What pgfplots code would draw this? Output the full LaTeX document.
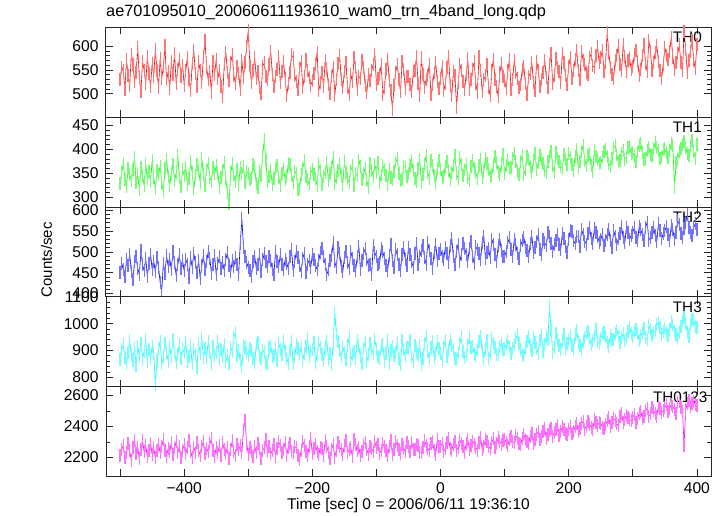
\documentclass[border=0pt]{standalone}
\usepackage{pgfplots}
\usepackage{pgfplotstable}
\pgfplotsset{compat=1.18}
\usepackage{fontspec}
\setmainfont{Liberation Sans}
\definecolor{qred}{RGB}{255,0,0}
\definecolor{qgreen}{RGB}{0,255,0}
\definecolor{qblue}{RGB}{0,0,255}
\definecolor{qcyan}{RGB}{0,255,255}
\definecolor{qmag}{RGB}{255,0,255}
\pgfplotstableread{
t a b c d e
-500 531 329 451 868 2214
-497.5 556 352 473 902 2251
-495 548 371 458 921 2276
-492.5 509 338 440 874 2198
-490 572 323 481 851 2230
-487.5 538 361 467 893 2289
-485 517 347 495 937 2243
-482.5 583 336 452 880 2181
-480 561 358 433 862 2262
-477.5 526 384 476 909 2307
-475 544 331 488 845 2225
-472.5 597 349 461 916 2268
-470 535 317 446 881 2192
-467.5 504 363 503 928 2254
-465 568 345 470 867 2311
-462.5 550 326 455 896 2236
-460 521 369 484 941 2279
-457.5 579 340 441 858 2207
-455 542 355 472 903 2248
-452.5 515 333 495 872 2290
-450 563 376 459 915 2221
-447.5 536 342 478 889 2263
-445 594 319 452 772 2198
-442.5 548 357 486 862 2244
-440 512 348 463 907 2286
-437.5 575 365 427 934 2231
-435 533 330 408 851 2270
-432.5 557 312 472 878 2317
-430 601 361 449 925 2246
-427.5 529 379 491 893 2209
-425 546 344 466 860 2259
-422.5 511 326 483 914 2238
-420 569 353 457 876 2295
-417.5 540 368 502 942 2217
-415 585 335 474 897 2262
-412.5 521 351 444 854 2302
-410 552 387 469 884 2233
-407.5 573 341 493 921 2269
-405 537 322 460 869 2198
-402.5 560 358 479 906 2247
-400 518 346 455 893 2284
-397.5 549 363 482 931 2226
-395 577 327 471 858 2265
-392.5 531 339 438 879 2311
-390 506 374 487 917 2242
-387.5 563 352 463 850 2201
-385 591 318 496 902 2268
-382.5 542 345 474 886 2233
-380 515 369 451 838 2295
-377.5 567 357 480 925 2247
-375 549 332 436 889 2214
-372.5 524 381 467 946 2272
-370 578 348 492 870 2306
-367.5 612 326 458 907 2229
-365 556 359 477 873 2261
-362.5 530 371 500 932 2238
-360 547 342 485 896 2289
-357.5 503 334 449 848 2322
-355 569 362 470 915 2246
-352.5 541 349 491 881 2210
-350 573 366 445 891 2265
-347.5 532 353 472 936 2230
-345 550 320 488 868 2278
-342.5 516 341 461 905 2213
-340 494 357 475 877 2294
-337.5 561 372 456 924 2251
-335 588 339 483 859 2226
-332.5 545 310 499 882 2267
-330 527 288 468 853 2193
-327.5 566 351 452 912 2255
-325 582 370 479 895 2307
-322.5 538 346 464 948 2238
-320 521 333 487 969 2216
-317.5 557 358 470 880 2282
-315 543 327 446 901 2249
-312.5 509 362 521 862 2275
-310 571 349 580 839 2231
-307.5 534 364 512 918 2384
-305 566 331 489 910 2438
-302.5 599 355 474 894 2292
-300 634 350 463 883 2219
-297.5 559 337 455 907 2266
-295 524 341 441 899 2241
-292.5 548 368 478 871 2208
-290 576 362 490 857 2273
-287.5 533 329 461 923 2230
-285 547 320 470 930 2288
-282.5 512 354 493 882 2257
-280 501 346 452 870 2197
-277.5 558 388 481 901 2248
-275 565 421 497 893 2262
-272.5 537 376 476 856 2314
-270 529 333 464 846 2236
-267.5 562 344 488 912 2271
-265 590 356 479 919 2225
-262.5 541 327 459 879 2246
-260 515 339 447 883 2283
-257.5 537 361 502 908 2209
-255 551 366 478 862 2258
-252.5 578 342 466 927 2301
-250 524 325 493 905 2277
-247.5 546 350 470 884 2230
-245 567 358 458 939 2251
-242.5 533 337 481 898 2297
-240 496 343 473 872 2216
-237.5 521 371 460 853 2262
-235 544 369 490 900 2291
-232.5 582 346 506 933 2238
-230 577 332 455 850 2235
-227.5 539 355 478 876 2270
-225 525 349 501 924 2264
-222.5 508 317 486 906 2212
-220 553 319 468 887 2189
-217.5 569 347 452 911 2246
-215 513 360 485 864 2304
-212.5 536 376 497 889 2278
-210 572 343 450 916 2240
-207.5 549 338 471 944 2213
-205 534 327 480 878 2269
-202.5 518 352 463 897 2325
-200 527 358 495 903 2224
-197.5 542 348 482 929 2258
-195 561 339 467 856 2283
-192.5 587 325 458 881 2240
-190 506 369 480 927 2217
-187.5 523 357 499 912 2266
-185 545 327 509 886 2259
-182.5 516 344 488 861 2214
-180 570 353 471 914 2310
-177.5 553 372 446 937 2273
-175 519 336 457 868 2233
-172.5 501 349 479 890 2197
-170 537 362 491 849 2254
-167.5 556 384 522 921 2287
-165 497 330 476 1041 2203
-162.5 529 341 462 962 2246
-160 563 356 510 934 2297
-157.5 581 371 497 899 2269
-155 531 343 464 876 2249
-152.5 512 328 453 913 2222
-150 547 375 487 894 2276
-147.5 565 352 502 868 2311
-145 514 340 475 920 2230
-142.5 498 331 461 947 2255
-140 541 357 501 863 2263
-137.5 525 366 484 886 2205
-135 577 326 468 898 2315
-132.5 556 349 455 871 2282
-130 508 346 488 939 2243
-127.5 537 378 514 917 2268
-125 532 365 459 876 2211
-122.5 571 338 479 852 2240
-120 555 350 496 908 2286
-117.5 518 361 508 931 2299
-115 503 335 482 858 2252
-112.5 540 320 467 884 2219
-110 528 370 471 925 2273
-107.5 549 357 446 903 2257
-105 562 343 516 889 2236
-102.5 583 368 498 941 2302
-100 519 353 489 905 2262
-97.5 532 372 471 879 2284
-95 540 331 474 871 2229
-92.5 561 346 509 917 2247
-90 498 366 500 921 2289
-87.5 513 358 485 858 2270
-85 552 345 467 890 2245
-82.5 573 327 456 942 2211
-80 527 360 492 852 2273
-77.5 506 341 519 899 2308
-75 467 337 479 914 2218
-72.5 518 355 462 880 2250
-70 545 373 507 894 2303
-67.5 561 382 493 927 2276
-65 529 350 470 867 2251
-62.5 504 336 455 846 2229
-60 568 337 495 936 2284
-57.5 551 365 510 903 2262
-55 511 363 482 880 2237
-52.5 537 344 468 911 2295
-50 536 349 512 906 2270
-47.5 520 367 494 938 2241
-45 505 375 477 873 2298
-42.5 546 356 463 859 2255
-40 550 340 496 920 2249
-37.5 578 333 520 897 2287
-35 522 361 471 885 2277
-32.5 497 379 488 918 2230
-30 576 332 503 847 2232
-27.5 541 348 515 872 2266
-25 513 369 487 926 2310
-22.5 530 388 470 951 2281
-20 539 353 522 895 2261
-17.5 562 340 503 869 2244
-15 498 378 485 912 2288
-12.5 519 366 461 935 2305
-10 544 345 499 873 2243
-7.5 565 330 517 890 2219
-5 526 361 480 934 2319
-2.5 511 377 496 906 2274
0 533 359 506 888 2272
2.5 557 342 490 862 2291
5 507 343 483 915 2239
7.5 521 365 512 938 2260
10 555 374 497 879 2297
12.5 579 357 475 901 2322
15 518 338 516 942 2258
17.5 496 351 533 918 2247
20 546 367 488 904 2284
22.5 539 387 470 871 2301
25 471 350 502 866 2245
27.5 523 339 519 893 2268
30 562 383 477 926 2313
32.5 549 368 494 951 2289
35 525 346 520 897 2269
37.5 508 358 509 874 2235
40 541 369 495 881 2292
42.5 574 341 478 920 2318
45 509 336 509 947 2255
47.5 531 364 526 912 2277
50 552 376 490 916 2306
52.5 567 361 473 889 2287
55 521 351 513 878 2264
57.5 503 340 505 903 2248
60 579 367 497 932 2297
62.5 548 379 482 954 2331
65 505 342 524 896 2250
67.5 529 355 538 871 2273
70 538 382 485 909 2319
72.5 561 371 499 936 2302
75 514 359 508 871 2273
77.5 496 344 486 893 2256
80 550 346 531 945 2300
82.5 573 368 517 927 2325
85 530 385 494 910 2262
87.5 515 372 478 886 2289
90 493 355 516 884 2331
92.5 544 348 531 915 2304
95 563 371 503 927 2287
97.5 537 389 489 903 2312
100 527 350 489 904 2319
102.5 511 366 502 922 2297
105 548 378 522 938 2280
107.5 572 361 534 915 2316
110 508 363 507 888 2335
112.5 530 382 490 906 2302
115 570 392 530 922 2297
117.5 545 375 518 947 2341
120 533 355 496 958 2323
122.5 514 348 484 926 2288
125 519 374 515 903 2282
127.5 552 387 527 884 2326
130 557 347 536 881 2348
132.5 521 359 511 912 2319
135 498 385 503 934 2304
137.5 536 379 490 951 2289
140 543 364 520 916 2339
142.5 566 351 538 899 2357
145 524 377 498 949 2293
147.5 507 392 511 930 2315
150 569 358 525 907 2350
152.5 548 372 541 889 2368
155 515 388 507 937 2317
157.5 530 379 493 956 2339
160 544 371 530 898 2365
162.5 571 356 522 921 2388
165 534 353 515 953 2326
167.5 512 374 547 940 2347
170 561 386 538 1066 2372
172.5 585 395 520 978 2390
175 521 367 502 894 2339
177.5 538 352 517 912 2361
180 575 394 527 964 2383
182.5 556 381 541 939 2407
185 547 375 519 918 2345
187.5 523 364 505 903 2366
190 586 361 544 937 2400
192.5 566 389 532 961 2381
195 538 380 513 906 2358
197.5 519 369 499 925 2347
200 558 391 531 940 2379
202.5 576 384 552 952 2398
205 533 369 549 917 2353
207.5 549 357 528 905 2370
210 572 386 520 959 2402
212.5 591 400 537 976 2421
215 548 363 537 931 2368
217.5 530 374 513 918 2386
220 589 395 554 905 2419
222.5 571 408 541 933 2433
225 561 378 526 948 2384
227.5 545 366 519 962 2401
230 540 388 545 970 2431
232.5 576 392 558 944 2412
235 584 366 533 923 2396
237.5 559 355 521 939 2378
240 555 397 557 952 2443
242.5 580 386 546 978 2429
245 599 380 537 934 2408
247.5 566 371 524 926 2424
250 576 372 530 945 2419
252.5 592 384 543 963 2397
255 547 395 515 968 2387
257.5 566 399 528 951 2412
260 629 385 542 929 2438
262.5 588 370 555 916 2457
265 556 365 527 957 2400
267.5 541 381 510 942 2423
270 533 401 551 940 2453
272.5 570 409 538 962 2440
275 581 389 518 976 2418
277.5 602 374 533 955 2405
280 561 376 545 931 2467
282.5 548 392 561 948 2482
285 605 398 534 963 2429
287.5 579 380 522 938 2446
290 546 384 559 946 2472
292.5 571 405 547 971 2461
295 574 406 531 987 2444
297.5 552 391 540 965 2437
300 557 393 548 952 2460
302.5 583 385 559 970 2479
305 592 375 535 978 2426
307.5 569 396 528 962 2451
310 539 409 562 937 2487
312.5 551 412 553 954 2498
315 580 393 541 969 2450
317.5 603 380 527 983 2464
320 564 382 559 948 2503
322.5 547 397 572 940 2518
325 613 404 528 992 2468
327.5 590 389 536 977 2481
330 550 387 547 955 2520
332.5 566 401 560 967 2505
335 588 414 539 973 2482
337.5 601 405 526 996 2467
340 569 397 569 1004 2533
342.5 549 382 551 985 2516
345 533 385 532 960 2492
347.5 562 399 544 972 2501
350 597 402 552 983 2525
352.5 581 393 561 969 2541
355 573 384 541 957 2499
357.5 589 397 528 978 2514
360 619 413 563 1007 2542
362.5 577 408 553 994 2527
365 552 321 530 974 2508
367.5 566 372 548 961 2486
370 584 379 575 946 2557
372.5 603 395 566 969 2563
375 565 402 544 989 2520
377.5 548 410 536 1012 2497
380 631 416 557 1022 2279
382.5 594 405 571 1001 2511
385 544 391 589 968 2549
387.5 571 388 560 952 2566
390 590 406 547 997 2531
392.5 612 419 539 1016 2548
395 571 395 559 1013 2564
397.5 553 382 568 990 2541
400 605 411 553 986 2538
}\lc
\pgfplotsset{
  panel/.style={
    width=605pt, height=89.8pt, scale only axis,
    xmin=-522, xmax=422,
    xtick={-400,-200,...,400},
    extra x ticks={-500,-300,-100,100,300},
    extra x tick labels={},
    extra x tick style={grid=none},
    xticklabels={},
    tick align=inside,
    axis line style={line width=1pt, black!85},
    every tick/.style={black!85, line width=0.8pt},
    major tick length=7pt, minor tick length=4pt,
    yticklabel style={font=\fontsize{15.6}{17}\selectfont, xshift=-4pt},
    xticklabel style={font=\fontsize{15.6}{17}\selectfont},
    /pgf/number format/assume math mode=true,
    /pgf/number format/1000 sep={},
    clip=true,
  },
  under/.style={#1!55, only marks, mark=|, mark size=6.5pt, mark options={line width=1.25pt, #1!55}, forget plot},
  over/.style={#1, line width=0.6pt, line join=round, no marks},
}
\tikzset{lab/.style={font=\fontsize{15.3}{17}\selectfont, anchor=base east, inner sep=0pt}}
\begin{document}
\begin{tikzpicture}
\useasboundingbox (-106pt,-39.3pt) rectangle (616pt,476.5pt);
% TH0
\begin{axis}[panel, at={(0,359.2pt)}, anchor=south west,
  ymin=450, ymax=640, ytick={500,550,600}, minor y tick num=4,
  title={ae701095010\_20060611193610\_wam0\_trn\_4band\_long.qdp},
  title style={at={(axis description cs:0,1)}, anchor=base west, inner sep=0pt, yshift=5pt, font=\fontsize{16.3}{18}\selectfont}]
\addplot[under=qred] table[x=t, y=a] {\lc};
\addplot[over=qred] table[x=t, y=a] {\lc};
\node[lab] at (rel axis cs:1,1) [xshift=-9pt, yshift=-15.3pt] {TH0};
\end{axis}
% TH1
\begin{axis}[panel, at={(0,269.4pt)}, anchor=south west,
  ymin=280, ymax=467, ytick={300,350,400,450}, minor y tick num=4]
\addplot[under=qgreen] table[x=t, y=b] {\lc};
\addplot[over=qgreen] table[x=t, y=b] {\lc};
\node[lab] at (rel axis cs:1,1) [xshift=-9pt, yshift=-15.5pt] {TH1};
\end{axis}
% TH2
\begin{axis}[panel, at={(0,179.6pt)}, anchor=south west,
  ymin=392, ymax=608, ytick={400,450,500,550,600}, minor y tick num=4,
  ylabel={Counts/sec},
  ylabel style={at={(axis description cs:-0.0893,0.411)}, anchor=base, inner sep=0pt, font=\fontsize{15}{17}\selectfont}]
\addplot[under=qblue] table[x=t, y=c] {\lc};
\addplot[over=qblue] table[x=t, y=c] {\lc};
\node[lab] at (rel axis cs:1,1) [xshift=-9pt, yshift=-15.6pt] {TH2};
\end{axis}
% TH3
\begin{axis}[panel, at={(0,89.8pt)}, anchor=south west,
  ymin=765, ymax=1100, ytick={800,900,1000,1100}, minor y tick num=4]
\addplot[under=qcyan] table[x=t, y=d] {\lc};
\addplot[over=qcyan] table[x=t, y=d] {\lc};
\node[lab] at (rel axis cs:1,1) [xshift=-9pt, yshift=-15.6pt] {TH3};
\end{axis}
% TH0123
\begin{axis}[panel, at={(0,0pt)}, anchor=south west,
  ymin=2078, ymax=2657, ytick={2200,2400,2600}, minor y tick num=1,
  xticklabels={{−400},{−200},0,200,400},
  xticklabel style={anchor=base, yshift=-16.5pt},
  xlabel={Time [sec] 0 = 2006/06/11 19:36:10},
  xlabel style={at={(axis description cs:0.5,0)}, anchor=base, inner sep=0pt, yshift=-33.3pt, font=\fontsize{15.5}{17}\selectfont}]
\addplot[under=qmag] table[x=t, y=e] {\lc};
\addplot[over=qmag] table[x=t, y=e] {\lc};
\node[lab] at (rel axis cs:1,1) [xshift=-3.3pt, yshift=-15.7pt] {TH0123};
\end{axis}
\end{tikzpicture}
\end{document}
